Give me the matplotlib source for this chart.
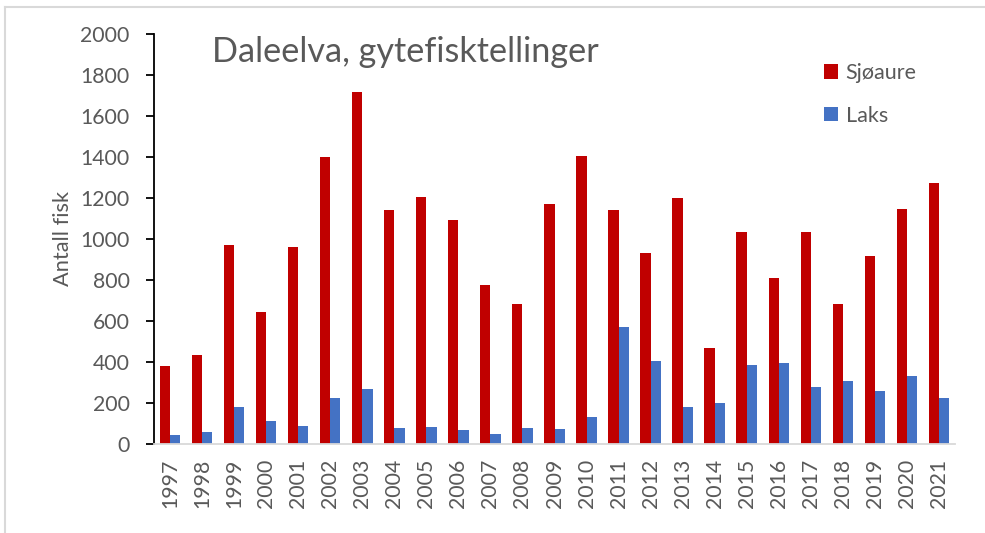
import matplotlib
matplotlib.use("Agg")
import matplotlib.pyplot as plt
from matplotlib.lines import Line2D
import numpy as np

years = [str(y) for y in range(1997, 2022)]
sjoaure = [378, 430, 970, 642, 958, 1400, 1717, 1139, 1203, 1093, 774, 680, 1172,
           1403, 1139, 929, 1199, 464, 1033, 808, 1031, 680, 914, 1146, 1271]
laks = [41, 54, 176, 109, 85, 223, 267, 77, 83, 67, 46, 77, 73,
        129, 569, 401, 176, 197, 381, 391, 274, 305, 254, 328, 220]
yticks = list(range(0, 2001, 200))

plt.rcParams['font.family'] = ['Lato', 'DejaVu Sans']
TXT = '#595959'
W, H = 985, 533
fig = plt.figure(figsize=(W / 100, H / 100), dpi=100)
ax = fig.add_axes([154 / W, 1 - 443.5 / H, (955 - 154) / W, (443.5 - 34) / H])

x = np.arange(len(years))
bw = 0.32
ax.bar(x - bw / 2, sjoaure, bw, color='#C00000', label='Sjøaure', zorder=2)
ax.bar(x + bw / 2, laks, bw, color='#4472C4', label='Laks', zorder=2)

ax.set_xlim(-0.5, len(years) - 0.5)
ax.set_ylim(0, 2000)
ax.set_yticks(yticks)
ax.set_yticklabels([str(v) for v in yticks], fontsize=15.3, color=TXT)
ax.set_xticks(x)
ax.set_xticklabels(years, rotation=90, fontsize=15.3, color=TXT)
ax.tick_params(axis='x', length=0, pad=11)
ax.tick_params(axis='y', length=5.5, width=1.3, color='black', pad=12)

for s in ['top', 'right']:
    ax.spines[s].set_visible(False)
ax.spines['left'].set_color('black')
ax.spines['left'].set_linewidth(1.3)
ax.spines['bottom'].set_color('#D9D9D9')
ax.spines['bottom'].set_linewidth(1.3)

ax.set_ylabel('Antall fisk', fontsize=15.7, color=TXT, labelpad=5)

fig.text(212 / W, 1 - 62 / H, 'Daleelva, gytefisktellinger', fontsize=24.7, color=TXT,
         ha='left', va='baseline')

leg = ax.legend(loc='upper left', bbox_to_anchor=(824 / W, 1 - 63 / H),
                bbox_transform=fig.transFigure, frameon=False, fontsize=15.5,
                handlelength=0.65, handleheight=0.65, handletextpad=0.35,
                labelspacing=1.05, borderaxespad=0, borderpad=0)
for t in leg.get_texts():
    t.set_color(TXT)

fig.add_artist(Line2D([5 / W, 1], [1 - 7 / H, 1 - 7 / H], color='#D9D9D9', lw=1.5,
                      transform=fig.transFigure))
fig.add_artist(Line2D([5 / W, 5 / W], [0, 1 - 7 / H], color='#D9D9D9', lw=1.5,
                      transform=fig.transFigure))

fig.savefig('out.png', dpi=100)
